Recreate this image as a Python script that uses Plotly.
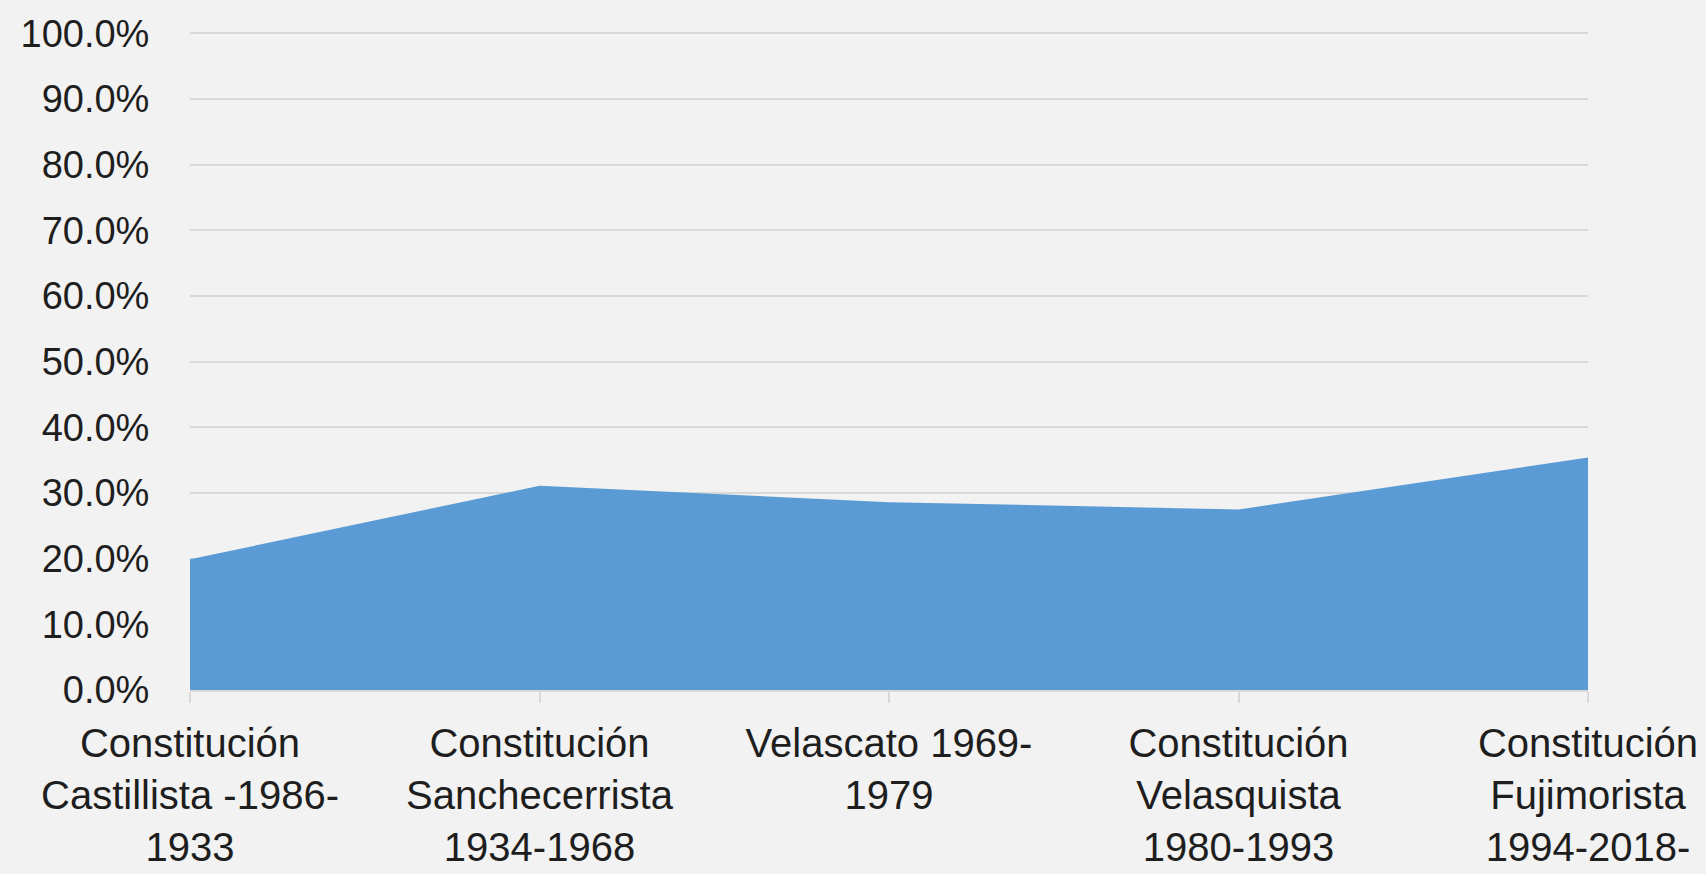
import plotly.graph_objects as go

categories = [
    "Constitución<br>Castillista -1986-<br>1933",
    "Constitución<br>Sanchecerrista<br>1934-1968",
    "Velascato 1969-<br>1979",
    "Constitución<br>Velasquista<br>1980-1993",
    "Constitución<br>Fujimorista<br>1994-2018-",
]
values = [0.199, 0.311, 0.286, 0.275, 0.354]
y_ticks = [i / 10 for i in range(11)]

x_pos = list(range(len(categories)))

fig = go.Figure()
fig.add_trace(go.Scatter(
    x=x_pos, y=values, mode="lines", fill="tozeroy",
    line=dict(width=0, color="#5B9BD5"), fillcolor="#5B9BD5",
    hoverinfo="skip", showlegend=False,
))

family = "Liberation Sans, Arial, sans-serif"
xfont = dict(family=family, size=40, color="#1e1e1e")
yfont = dict(family=family, size=38, color="#1e1e1e")

fig.update_layout(
    width=1706, height=874, autosize=False,
    paper_bgcolor="#F2F2F2", plot_bgcolor="#F2F2F2",
    margin=dict(l=190, r=118, t=32, b=184),
    font=yfont,
    xaxis=dict(
        range=[0, len(categories) - 1], tickvals=x_pos, ticktext=categories,
        showgrid=False, zeroline=False, showline=True, linecolor="#D9D9D9", linewidth=1.5,
        ticks="outside", ticklen=11, tickcolor="#D9D9D9", tickwidth=1.5,
        ticklabelstandoff=6, automargin=False,
        tickangle=0, tickfont=xfont, fixedrange=True,
    ),
    yaxis=dict(
        range=[0, 1.002], tickvals=y_ticks, tickformat=".1%",
        showgrid=True, gridcolor="#D9D9D9", gridwidth=1.5, zeroline=False,
        showline=False, ticks="outside", ticklen=32, tickcolor="rgba(0,0,0,0)",
        automargin=False, tickfont=yfont, fixedrange=True,
    ),
)

fig.write_html(
    "out.html",
    config={"displayModeBar": False},
    post_script="document.body.style.margin='0';document.body.style.overflow='hidden';",
)
